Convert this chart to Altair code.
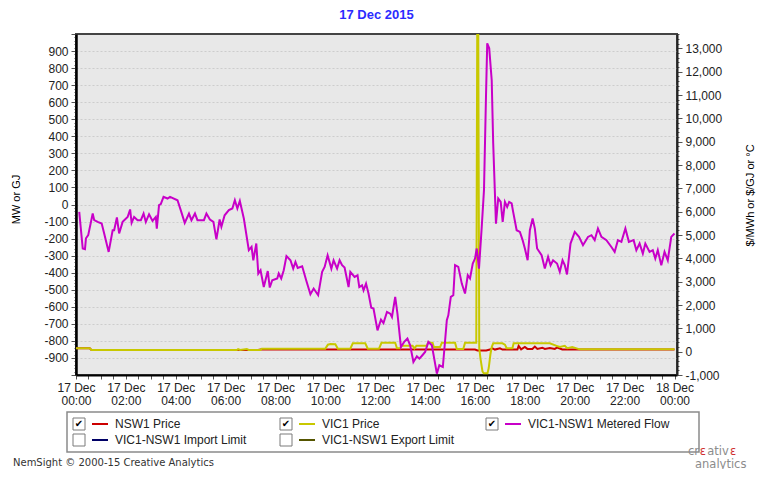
import altair as alt
import pandas as pd

# ---------------- data ----------------
flow_hours = [0.13, 0.27, 0.36, 0.4, 0.49, 0.67, 0.73, 0.87, 1.03, 1.13, 1.31, 1.47, 1.53, 1.64, 1.73, 1.87,
              2.07, 2.17, 2.23, 2.33, 2.47, 2.6, 2.71, 2.8, 2.93, 3.07, 3.2, 3.24, 3.33, 3.4, 3.51, 3.67, 3.77,
              4.07, 4.2, 4.36, 4.53, 4.63, 4.77, 4.87, 5.13, 5.23, 5.37, 5.51, 5.63, 5.76, 5.83, 5.96, 6.13,
              6.27, 6.37, 6.47, 6.57, 6.73, 6.93, 7.04, 7.11, 7.23, 7.31, 7.4, 7.53, 7.69, 7.77, 7.87, 8.07,
              8.13, 8.23, 8.33, 8.44, 8.6, 8.71, 8.8, 8.89, 9.07, 9.23, 9.4, 9.53, 9.71, 9.87, 9.97, 10.09,
              10.24, 10.33, 10.47, 10.57, 10.67, 10.77, 10.93, 11.0, 11.17, 11.29, 11.36, 11.47, 11.53, 11.63,
              11.73, 11.84, 11.93, 12.09, 12.23, 12.33, 12.47, 12.6, 12.67, 12.8, 12.89, 13.03, 13.16, 13.29,
              13.4, 13.53, 13.67, 13.77, 13.89, 14.0, 14.13, 14.27, 14.4, 14.47, 14.57, 14.71, 14.87, 14.93,
              15.03, 15.13, 15.2, 15.33, 15.47, 15.6, 15.71, 15.8, 15.91, 16.0, 16.07, 16.16, 16.27, 16.36,
              16.44, 16.49, 16.57, 16.67, 16.73, 16.84, 16.93, 17.03, 17.11, 17.2, 17.29, 17.37, 17.47, 17.53,
              17.67, 17.8, 17.91, 18.0, 18.11, 18.2, 18.31, 18.4, 18.49, 18.67, 18.8, 18.93, 19.03, 19.13,
              19.29, 19.4, 19.51, 19.6, 19.69, 19.83, 20.0, 20.17, 20.33, 20.53, 20.67, 20.8, 20.93, 21.07,
              21.27, 21.47, 21.6, 21.73, 21.87, 22.03, 22.17, 22.36, 22.47, 22.6, 22.73, 22.83, 23.0, 23.13,
              23.23, 23.33, 23.47, 23.6, 23.73, 23.87, 24.0]
flow_mw = [-43, -258, -262, -198, -180, -53, -92, -102, -112, -170, -278, -151, -151, -76, -170, -102,
           -73, -29, -108, -73, -92, -92, -53, -102, -57, -96, -73, -141, -4, 2, 45, 35, 45,
           25, -33, -108, -53, -92, -53, -92, -92, -53, -88, -102, -205, -88, -131, -63, -33,
           -23, 25, -23, 21, -82, -268, -249, -327, -229, -405, -386, -484, -390, -487, -444, -434,
           -405, -434, -386, -303, -327, -376, -337, -372, -362, -444, -526, -493, -532, -395, -366, -298,
           -376, -327, -376, -327, -356, -370, -484, -395, -425, -415, -484, -474, -503, -464,
           -522, -605, -610, -738, -675, -695, -630, -640, -660, -542, -640, -836, -806, -786,
           -826, -924, -890, -904, -884, -865, -806, -826, -933, -992, -943, -953, -679, -650,
           -542, -532, -356, -366, -464, -522, -415, -434, -346, -317, -258, -376, -131, 84,
           631, 945, 916, 729, 358, -112, 35, 15, -102, 15, -14, 15, 6, -43,
           -151, -161, -209, -258, -327, -151, -82, -141, -258, -297, -376, -307, -356, -327,
           -346, -395, -327, -356, -410, -229, -161, -190, -239, -190, -180, -209, -141, -190,
           -209, -249, -278, -209, -219, -141, -219, -209, -268, -229, -288, -229, -278, -268,
           -317, -268, -356, -278, -327, -190, -170]

vic_hours = [0, 0.55, 0.62, 6.45, 6.5, 6.58, 6.85, 6.92, 7.0, 7.4,
             7.45, 10.0, 10.1, 10.2, 10.4, 10.5, 11.0, 11.1, 11.6, 11.7,
             12.15, 12.25, 12.8, 12.87, 13.0, 13.05, 13.5, 13.57, 13.65, 14.07,
             14.12, 14.3, 14.35, 14.6, 14.67, 15.2, 15.27, 15.53, 15.6, 16.05,
             16.09, 16.13, 16.17, 16.22, 16.3, 16.35, 16.5, 16.55, 16.62, 16.67,
             16.73, 17.1, 17.2, 17.27, 17.5, 17.55, 19.0, 19.27, 19.4, 19.6,
             19.7, 19.9, 20.2, 24.0]
vic_price = [146, 146, 73, 73, 110, 73, 110, 73, 73, 73,
             130, 130, 300, 330, 320, 130, 130, 360, 360, 130,
             130, 380, 380, 146, 146, 250, 250, 146, 250, 250,
             400, 380, 200, 200, 380, 380, 110, 110, 380, 380,
             14000, 14000, 150, -300, -850, -930, -930, -700, -100, 200,
             360, 360, 300, 146, 146, 360, 360, 250, 200, 250,
             150, 200, 100, 100]

nsw_hours = [0, 0.55, 0.62, 7.3, 7.4, 16.0, 16.1, 16.45, 16.6, 16.7, 16.8, 17.0, 17.1, 17.3, 17.7, 17.75,
             17.85, 18.0, 18.1, 18.3, 18.4, 18.5, 18.7, 18.8, 19.0, 19.2, 19.3, 19.5, 24.0]
nsw_price = [146, 146, 73, 73, 90, 90, 50, 50, 90, 146, 90, 146, 90, 90, 90, 250,
             100, 200, 120, 120, 220, 120, 170, 120, 160, 120, 180, 95, 95]

legend_names = ["NSW1 Price", "VIC1 Price", "VIC1-NSW1 Metered Flow",
                "VIC1-NSW1 Import Limit", "VIC1-NSW1 Export Limit"]
legend_colors = ["#cc0000", "#c8c800", "#c800c8", "#000066", "#555500"]
legend_checked = [True, True, True, False, False]

left_ticks = list(range(-1000, 1001, 20))
right_ticks = list(range(-1000, 13601, 200))
x_ticks = [i * 0.5 for i in range(49)]

# ---------------- layout ----------------
W, H = 601, 341
FONT = "Liberation Sans"
X_DOM = [0, 24.1]
L_DOM = [-1000, 1000]
R_DOM = [-1000, 13620]

flow_df = pd.DataFrame({"h": flow_hours, "v": flow_mw})
vic_df = pd.DataFrame({"h": vic_hours, "v": vic_price})
nsw_df = pd.DataFrame({"h": nsw_hours, "v": nsw_price})

xs = alt.Scale(domain=X_DOM, nice=False, zero=False)
rs = alt.Scale(domain=R_DOM, nice=False, zero=False)
ls = alt.Scale(domain=L_DOM, nice=False, zero=False)

x_label_expr = ("datum.value % 2 === 0 ? [datum.value < 24 ? '17 Dec' : '18 Dec', "
                "(datum.value % 24 < 10 ? '0' : '') + (datum.value % 24) + ':00'] : ''")
x_axis = alt.Axis(orient="bottom", values=x_ticks, labelExpr=x_label_expr, labelOverlap=False,
                  labelFlush=False, grid=False, tickSize=4, tickColor="#555", domainColor="#000",
                  domainWidth=2, labelFont=FONT, labelFontSize=12, labelColor="#222", labelPadding=3,
                  labelLineHeight=13, title=None)

left_axis = alt.Axis(
    orient="left", values=left_ticks,
    labelExpr="datum.value % 100 === 0 && abs(datum.value) < 1000 ? '' + datum.value : ''",
    labelOverlap=False, labelFont=FONT, labelFontSize=12, labelColor="#222", labelPadding=3,
    tickColor="#555",
    tickSize={"condition": {"test": "datum.value % 100 === 0", "value": 5}, "value": 2},
    grid=True, gridColor="#cdcdcd", gridDash=[2, 2],
    gridOpacity={"condition": {"test": "datum.value % 100 === 0 && abs(datum.value) < 1000", "value": 1}, "value": 0},
    domainColor="#000", domainWidth=2.5,
    title="MW or GJ", titleAngle=270, titleX=-60, titleY=165, titleAlign="center",
    titleBaseline="middle", titleFont=FONT, titleFontSize=11, titleFontWeight="normal", titleColor="#000")

right_axis = alt.Axis(
    orient="right", values=right_ticks,
    labelExpr=("datum.value % 1000 === 0 ? (datum.value === 0 ? '0' : (datum.value < 0 ? '-' : '') + "
               "(abs(datum.value) / 1000) + ',000') : ''"),
    labelOverlap=False, labelFont=FONT, labelFontSize=12, labelColor="#222", labelPadding=3,
    tickColor="#555",
    tickSize={"condition": {"test": "datum.value % 1000 === 0", "value": 5}, "value": 2},
    grid=False, domainColor="#222", domainWidth=2,
    title="$/MWh or $/GJ or °C", titleAngle=270, titleX=73, titleY=161, titleAlign="center",
    titleBaseline="middle", titleFont=FONT, titleFontSize=11, titleFontWeight="normal", titleColor="#000")

nsw = alt.Chart(nsw_df).mark_line(color="#cc0000", strokeWidth=2, clip=True).encode(
    x=alt.X("h:Q", scale=xs, axis=None),
    y=alt.Y("v:Q", scale=rs, axis=None))

vic = alt.Chart(vic_df).mark_line(color="#c8c800", strokeWidth=2, clip=True).encode(
    x=alt.X("h:Q", scale=xs, axis=None),
    y=alt.Y("v:Q", scale=rs, axis=right_axis))

flow = alt.Chart(flow_df).mark_line(color="#c800c8", strokeWidth=2, clip=True).encode(
    x=alt.X("h:Q", scale=xs, axis=x_axis),
    y=alt.Y("v:Q", scale=ls, axis=left_axis))

# ---------------- legend (pixel positions relative to plot origin) ----------------
col_x = [-3, 204, 410]
row_y = [384, 400]
rows = []
for i, (n, c, chk) in enumerate(zip(legend_names, legend_colors, legend_checked)):
    bx = col_x[i % 3]
    by = row_y[i // 3]
    rows.append(dict(name=n, color=c, checked=chk, bx=bx, bx2=bx + 12, by=by, by2=by + 12,
                     cx=bx + 6, cy=by + 6, lx=bx + 19, lx2=bx + 35, tx=bx + 42))
leg_df = pd.DataFrame(rows)


def px(field):
    return alt.X(f"{field}:Q", scale=None, axis=None)


def py(field):
    return alt.Y(f"{field}:Q", scale=None, axis=None)


box = alt.Chart(pd.DataFrame([{"x": -9, "x2": 623, "y": 378, "y2": 418}])).mark_rect(
    fill="white", stroke="#8a8a8a", strokeWidth=1.5).encode(
    x=px("x"), x2="x2:Q", y=py("y"), y2="y2:Q")

cbox = alt.Chart(leg_df).mark_rect(fill="white", stroke="#7a7a7a", strokeWidth=1).encode(
    x=px("bx"), x2="bx2:Q", y=py("by"), y2="by2:Q")

check = alt.Chart(leg_df).transform_filter("datum.checked").mark_text(
    text="✔", font="DejaVu Sans", fontSize=10, color="#000", baseline="middle").encode(
    x=px("cx"), y=py("cy"))

lline = alt.Chart(leg_df).mark_rule(strokeWidth=2).encode(
    x=px("lx"), x2="lx2:Q", y=py("cy"), color=alt.Color("color:N", scale=None))

ltext = alt.Chart(leg_df).mark_text(align="left", baseline="middle", font=FONT, fontSize=12,
                                    color="#222").encode(
    x=px("tx"), y=py("cy"), text="name:N")

footer = alt.Chart(pd.DataFrame([{"t": "NemSight © 2000-15 Creative Analytics", "x": -63, "y": 429}])).mark_text(
    align="left", baseline="middle", font="DejaVu Sans", fontSize=10, color="#333").encode(
    x=px("x"), y=py("y"), text="t:N")

logo_df = pd.DataFrame([
    {"t": "cr", "x": 612, "y": 418, "c": "#8c8c8c"},
    {"t": "ε", "x": 623.8, "y": 418, "c": "#d03030"},
    {"t": "ativ", "x": 631.2, "y": 418, "c": "#8c8c8c"},
    {"t": "ε", "x": 654, "y": 418, "c": "#d03030"},
    {"t": "analytics", "x": 619, "y": 430.5, "c": "#8c8c8c"},
])
logo = alt.Chart(logo_df).mark_text(align="left", baseline="middle", font="DejaVu Sans",
                                    fontSize=11.5).encode(
    x=px("x"), y=py("y"), text="t:N", color=alt.Color("c:N", scale=None))

chart = alt.layer(nsw, vic, flow, box, cbox, check, lline, ltext, footer, logo).resolve_scale(
    x="independent", y="independent"
).properties(
    width=W, height=H,
    title=alt.TitleParams("17 Dec 2015", color="#2b2bff", fontSize=13, fontWeight="bold",
                          font=FONT, anchor="middle", offset=6),
    autosize=alt.AutoSizeParams(type="none"),
    padding={"left": 68, "top": 26, "right": 80, "bottom": 94},
).configure(background="white").configure_view(
    fill="#e8e8e8", stroke="#444", strokeWidth=2
)

chart.save("out.html", embed_options={"renderer": "svg", "actions": False})
